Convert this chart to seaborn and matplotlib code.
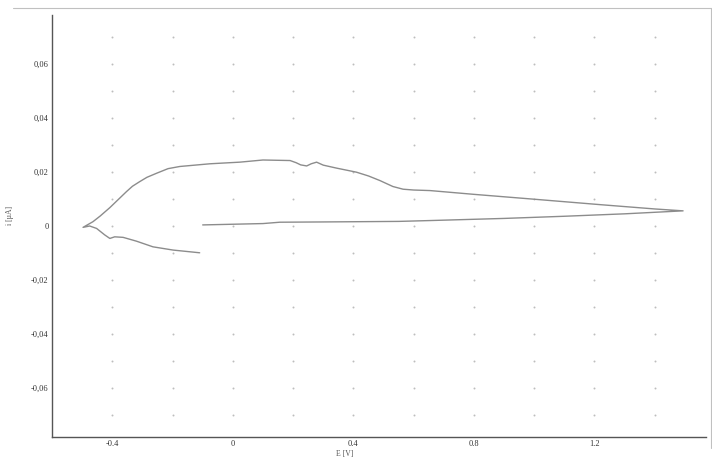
import numpy as np
import pandas as pd
import matplotlib
matplotlib.use("Agg")
import matplotlib.pyplot as plt
from matplotlib.lines import Line2D
import seaborn as sns

# forward scan, -0.1 V -> 1.5 V
fwd_e = [-0.10, 0.10, 0.156, 0.30, 0.55, 0.65, 0.90, 1.10, 1.30, 1.494]
fwd_i = [0.0004, 0.0009, 0.0014, 0.0015, 0.0017, 0.0020, 0.0028, 0.0036, 0.0045, 0.0056]

# reverse scan, 1.5 V -> -0.5 V
rev_e = [1.494, 1.40, 1.218, 1.00, 0.80, 0.654, 0.60, 0.565, 0.531, 0.488, 0.45,
         0.41, 0.344, 0.30, 0.278, 0.26, 0.245, 0.225, 0.21, 0.19, 0.10, 0.023,
         -0.076, -0.176, -0.215, -0.253, -0.285, -0.309, -0.333, -0.353, -0.38,
         -0.408, -0.44, -0.464, -0.497]
rev_i = [0.0056, 0.0063, 0.0079, 0.0099, 0.0117, 0.0131, 0.0133, 0.0136, 0.0146,
         0.0168, 0.0185, 0.0199, 0.0214, 0.0225, 0.0236, 0.0230, 0.0222, 0.0226,
         0.0234, 0.0242, 0.0244, 0.0236, 0.0230, 0.0220, 0.0212, 0.0195, 0.0180,
         0.0164, 0.0147, 0.0127, 0.0098, 0.0068, 0.0037, 0.0016, -0.0005]

# last segment, -0.5 V -> -0.1 V
end_e = [-0.497, -0.475, -0.452, -0.425, -0.408, -0.392, -0.364, -0.32, -0.265, -0.198, -0.11]
end_i = [-0.0005, 0.0, -0.0009, -0.0033, -0.0046, -0.0040, -0.0042, -0.0056, -0.0077, -0.0089, -0.0099]

x_ticks = [-0.4, 0, 0.4, 0.8, 1.2]
x_labels = ["-0.4", "0", "0.4", "0.8", "1.2"]
y_ticks = [-0.06, -0.04, -0.02, 0, 0.02, 0.04, 0.06]
y_labels = ["-0,06", "-0,04", "-0,02", "0", "0,02", "0,04", "0,06"]

df = pd.DataFrame({
    "E": fwd_e + rev_e + end_e,
    "i": fwd_i + rev_i + end_i,
})

sns.set_style("white")
plt.rcParams["font.family"] = ["Liberation Serif", "DejaVu Serif"]

fig = plt.figure(figsize=(7.12, 4.57), dpi=100)
ax = fig.add_axes([52 / 712, 1 - 437 / 457, 654 / 712, 422 / 457])

# dotted grid at minor positions
gx, gy = np.meshgrid(np.arange(-0.4, 1.41, 0.2), np.arange(-0.07, 0.0701, 0.01))
ax.scatter(gx.ravel(), gy.ravel(), s=2.0, color="#bdbdbd", linewidths=0, zorder=1)

sns.lineplot(data=df, x="E", y="i", sort=False, estimator=None, color="#8c8c8c",
             linewidth=1.0, ax=ax, zorder=3)

ax.set_xlim(-0.6, 1.57)
ax.set_ylim(-0.078, 0.078)
ax.set_xticks(x_ticks)
ax.set_xticklabels(x_labels)
ax.set_yticks(y_ticks)
ax.set_yticklabels(y_labels)
ax.set_xticks(np.arange(-0.6, 1.5, 0.2), minor=True)
ax.set_yticks(np.arange(-0.07, 0.071, 0.01), minor=True)
ax.tick_params(which="both", direction="inout", length=3, width=0.6, color="#555555",
               labelsize=6, labelcolor="#333333", pad=1)
ax.tick_params(which="minor", length=2)

for side in ["top", "right"]:
    ax.spines[side].set_visible(False)
for side in ["left", "bottom"]:
    ax.spines[side].set_color("#555555")
    ax.spines[side].set_linewidth(1.0)

ax.set_xlabel("E [V]", fontsize=5.5, color="#555555")
ax.set_ylabel("i [µA]", fontsize=5.5, color="#555555")
ax.xaxis.set_label_coords((345 - 52) / 654, -13 / 422)
ax.yaxis.set_label_coords(-38 / 654, (437 - 215) / 422)

# window borders
fig.add_artist(Line2D([13 / 712, 1], [1 - 8 / 457, 1 - 8 / 457], color="#c0c0c0", lw=0.8))
fig.add_artist(Line2D([711 / 712, 711 / 712], [0.02, 1 - 8 / 457], color="#c0c0c0", lw=0.8))

fig.savefig("out.png", dpi=100, facecolor="white")
